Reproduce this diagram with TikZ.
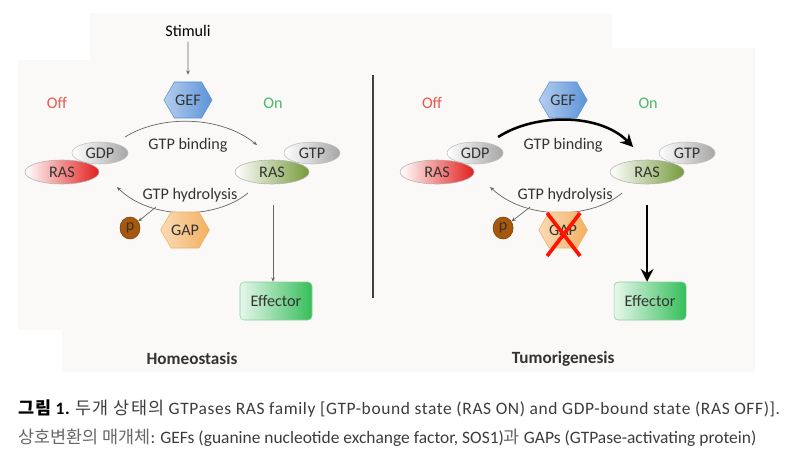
\documentclass[tikz,border=0pt]{standalone}
\usepackage{fontspec}
\setmainfont{Carlito}
\newfontfamily\kr{Noto Sans CJK KR}
\newfontfamily\krwide{Noto Sans CJK KR}[LetterSpace=8]
\newfontfamily\capwide{Carlito}[LetterSpace=3.6]
\usetikzlibrary{shapes.geometric,shapes.symbols,arrows.meta}

\definecolor{offred}{HTML}{E65A50}
\definecolor{ongreen}{HTML}{4DB86A}
\definecolor{panel}{HTML}{FAF9F7}
\definecolor{inktext}{HTML}{333333}
\definecolor{capgray}{HTML}{3C3C3C}
\definecolor{gefblue}{HTML}{5B93D8}
\definecolor{gaporange}{HTML}{F2B060}
\definecolor{rasred}{HTML}{E21E1C}
\definecolor{rasgreen}{HTML}{769B3A}
\definecolor{pbrown}{HTML}{A8580C}
\definecolor{pedge}{HTML}{783C05}
\definecolor{effedge}{HTML}{8CCD9B}
\definecolor{efflight}{HTML}{E8F7EC}
\definecolor{effdark}{HTML}{34BE5A}

\tikzset{
  hexbox/.style={signal, signal to=west and east, signal pointer angle=120,
    inner sep=0pt, minimum width=1.2cm, minimum height=0.9cm, text=inktext},
  gefbox/.style={hexbox, draw=#1, left color=#1!45!white, right color=#1},
  gefbox/.default=gefblue,
  nucl/.style={ellipse, inner sep=0pt, minimum width=1.4cm, minimum height=0.55cm,
    draw=black!25, left color=white, right color=black!35, text=inktext},
  rasbox/.style={ellipse, inner sep=0pt, minimum width=1.85cm, minimum height=0.6cm,
    draw=black!30, left color=white, right color=#1, text=inktext},
  pbox/.style={ellipse, inner sep=0pt, minimum width=0.5cm, minimum height=0.55cm,
    draw=pedge, fill=pbrown, text=black!80},
  effbox/.style={rectangle, rounded corners=3pt, minimum width=1.8cm, minimum height=0.95cm,
    draw=effedge, left color=efflight, right color=effdark, text=inktext},
  thinarr/.style={draw=black!60, line width=0.5pt, -{Stealth[length=3pt,width=2.5pt]}},
  boldarr/.style={draw=black, line width=1.8pt, -{Stealth[length=9pt,width=9pt]}}
}

\begin{document}
\begin{tikzpicture}[x=0.025cm,y=-0.025cm,font=\fontsize{11.5}{13}\selectfont]
 \useasboundingbox (0,0) rectangle (800,468);
 \fill[panel] (18,60) -- (90,60) -- (90,13) -- (612,13) -- (612,48) -- (755,48)
   -- (755,372) -- (62,372) -- (62,330) -- (18,330) -- cycle;
 % homeostasis
 \begin{scope}
  \node (stimL) at (188,31) {Stimuli};
  \node[gefbox] (gefL) at (188,100) {GEF};
  \draw[thinarr, shorten >=5pt] (stimL) -- (gefL);
  \node[text=offred] (offL) at (57,103) {Off};
  \node[text=ongreen] (onL) at (273,103) {On};
  \node[nucl] (gdpL) at (100,153) {GDP};
  \node[rasbox=rasred] (rasoffL) at (62,172) {RAS};
  \node[nucl] (gtpL) at (312,153) {GTP};
  \node[rasbox=rasgreen] (rasonL) at (272,172) {RAS};
  \node[text=inktext] (bindL) at (188,145) {GTP binding};
  \coordinate (bsL) at (125,137);
  \coordinate (beL) at (257,145);
  \draw[thinarr] (bsL) .. controls (160,115) and (220,115) .. (beL);
  \node[text=inktext] (hydL) at (190,195) {GTP hydrolysis};
  \coordinate (hsL) at (248,193);
  \coordinate (heL) at (117,187);
  \draw[thinarr] (hsL) .. controls (215,220) and (150,220) .. (heL);
  \node[pbox] (pL) at (130,228) {p};
  \node[gefbox=gaporange] (gapL) at (185,230) {GAP};
  \coordinate (hpL) at (156,207);
  \draw[thinarr] (hpL) -- (pL);
  \node[effbox] (effL) at (276,301) {Effector};
  \coordinate (esL) at (273,205);
  \draw[thinarr] (esL) -- (esL |- effL.north);
  \node[font=\fontsize{12.2}{14}\selectfont\bfseries, text=inktext] (homeo) at (192,359) {Homeostasis};
 \end{scope}
 \draw[black!75, line width=1.2pt] (373,75) -- (373,298);
 % tumorigenesis
 \begin{scope}[xshift=9.375cm]
  \node[gefbox] (gefR) at (188,100) {GEF};
  \node[text=offred] (offR) at (57,103) {Off};
  \node[text=ongreen] (onR) at (273,103) {On};
  \node[nucl] (gdpR) at (100,153) {GDP};
  \node[rasbox=rasred] (rasoffR) at (62,172) {RAS};
  \node[nucl] (gtpR) at (312,153) {GTP};
  \node[rasbox=rasgreen] (rasonR) at (272,172) {RAS};
  \node[text=inktext] (bindR) at (188,145) {GTP binding};
  \coordinate (bsR) at (123,137);
  \coordinate (beR) at (258,147);
  \draw[boldarr] (bsR) .. controls (160,113) and (225,113) .. (beR);
  \node[text=inktext] (hydR) at (190,195) {GTP hydrolysis};
  \coordinate (hsR) at (247,193);
  \coordinate (heR) at (115,187);
  \draw[thinarr] (hsR) .. controls (215,220) and (150,220) .. (heR);
  \node[pbox] (pR) at (128,228) {p};
  \node[gefbox=gaporange] (gapR) at (188,230) {GAP};
  \coordinate (hpR) at (155,207);
  \draw[thinarr] (hpR) -- (pR);
  \draw[red!85!orange, line width=2.6pt] (gapR.center) ++(-16,-17) -- ++(33,43)
    (gapR.center) ++(17,-17) -- ++(-33,43);
  \node[effbox] (effR) at (275,301) {Effector};
  \coordinate (esR) at (272,205);
  \draw[boldarr, line width=1.6pt] (esR) -- (esR |- effR.north);
  \node[font=\fontsize{12.2}{14}\selectfont\bfseries, text=inktext] (tumor) at (188,359) {Tumorigenesis};
 \end{scope}
 % caption
 \node[anchor=west, inner sep=0pt, text=capgray, font=\fontsize{12.4}{14}\selectfont] (cap1) at (18,409)
  {{\krwide\bfseries\color{black}그림} {\capwide\bfseries\color{black}1.} {\krwide 두개 상태의} {\capwide GTPases RAS family [GTP-bound state (RAS ON) and GDP-bound state (RAS OFF)].}};
 \node[anchor=west, inner sep=0pt, text=capgray, font=\fontsize{12.4}{14}\selectfont] (cap2) at (18,438)
  {{\kr\color{black!60}상호변환의 매개체}: GEFs (guanine nucleotide exchange factor, SOS1){\kr\color{black!60}과} GAPs (GTPase-activating protein)};
\end{tikzpicture}
\end{document}
